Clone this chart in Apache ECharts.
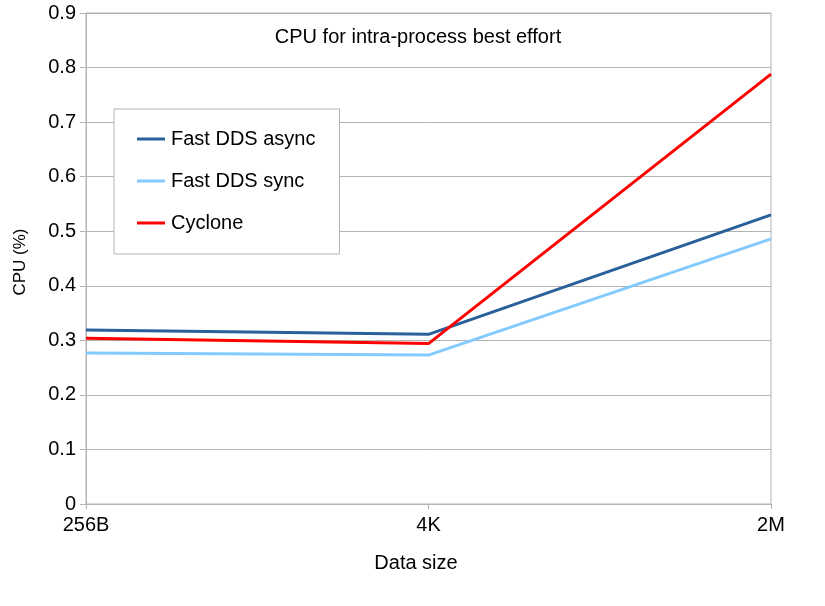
<!DOCTYPE html>
<html><head><meta charset="utf-8">
<script src="https://cdn.jsdelivr.net/npm/echarts@6/dist/echarts.min.js"></script>
<style>html,body{margin:0;padding:0;background:#fff}#c{width:825px;height:606px}</style>
</head><body><div id="c"></div>
<script>
const categories = ['256B', '4K', '2M'];
const fastAsync = [0.319, 0.311, 0.530];
const fastSync = [0.277, 0.273, 0.486];
const cyclone = [0.304, 0.294, 0.788];
const yTicks = [0, 0.1, 0.2, 0.3, 0.4, 0.5, 0.6, 0.7, 0.8, 0.9];

const chart = echarts.init(document.getElementById('c'), null, {renderer: 'canvas'});
const font = 'Liberation Sans';
chart.setOption({
  animation: false,
  backgroundColor: '#fff',
  title: {
    text: 'CPU for intra-process best effort',
    left: 413, top: 22, textAlign: 'center',
    textStyle: {fontFamily: font, fontSize: 20, fontWeight: 'normal', color: '#000'}
  },
  legend: {
    orient: 'vertical', left: 114, top: 109,
    padding: [20, 24, 21, 23],
    itemGap: 22, itemWidth: 28, itemHeight: 3, icon: 'rect',
    borderColor: '#b3b3b3', borderWidth: 1, backgroundColor: '#fff',
    textStyle: {fontFamily: font, fontSize: 20, color: '#000', padding: [0, 0, 0, 1]},
    data: ['Fast DDS async', 'Fast DDS sync', 'Cyclone']
  },
  grid: {left: 86, right: 54, top: 13, bottom: 102, containLabel: false, outerBoundsMode: 'none',
    show: true, borderColor: '#b3b3b3', borderWidth: 1, backgroundColor: 'transparent'},
  xAxis: {
    type: 'category', data: categories, boundaryGap: false,
    name: 'Data size', nameLocation: 'middle', nameGap: 49,
    nameTextStyle: {fontFamily: font, fontSize: 20, color: '#000', padding: [0, 25, 0, 0]},
    axisLine: {lineStyle: {color: '#b3b3b3'}},
    axisTick: {show: true, length: 5, lineStyle: {color: '#b3b3b3'}},
    axisLabel: {fontFamily: font, fontSize: 20, color: '#000', margin: 11},
    splitLine: {show: false}
  },
  yAxis: {
    type: 'value', min: 0, max: 0.9, interval: 0.1,
    name: 'CPU (%)', nameLocation: 'middle', nameGap: 57, nameRotate: 90,
    nameTextStyle: {fontFamily: font, fontSize: 17, color: '#000', padding: [0, 7, 0, 0]},
    axisLine: {show: true, lineStyle: {color: '#b3b3b3'}},
    axisTick: {show: true, length: 6, lineStyle: {color: '#b3b3b3'}},
    axisLabel: {fontFamily: font, fontSize: 20, color: '#000', margin: 10,
      formatter: v => { const t = yTicks.find(x => Math.abs(x - v) < 1e-9); return t === undefined ? '' : String(t); }},
    splitLine: {show: true, lineStyle: {color: '#b3b3b3'}}
  },
  series: [
    {name: 'Fast DDS async', type: 'line', data: fastAsync, symbol: 'none', lineStyle: {width: 3, color: '#2a6099'}, itemStyle: {color: '#2a6099'}},
    {name: 'Fast DDS sync', type: 'line', data: fastSync, symbol: 'none', lineStyle: {width: 3, color: '#83caff'}, itemStyle: {color: '#83caff'}},
    {name: 'Cyclone', type: 'line', data: cyclone, symbol: 'none', lineStyle: {width: 3, color: '#ff0000'}, itemStyle: {color: '#ff0000'}}
  ]
});
</script></body></html>
